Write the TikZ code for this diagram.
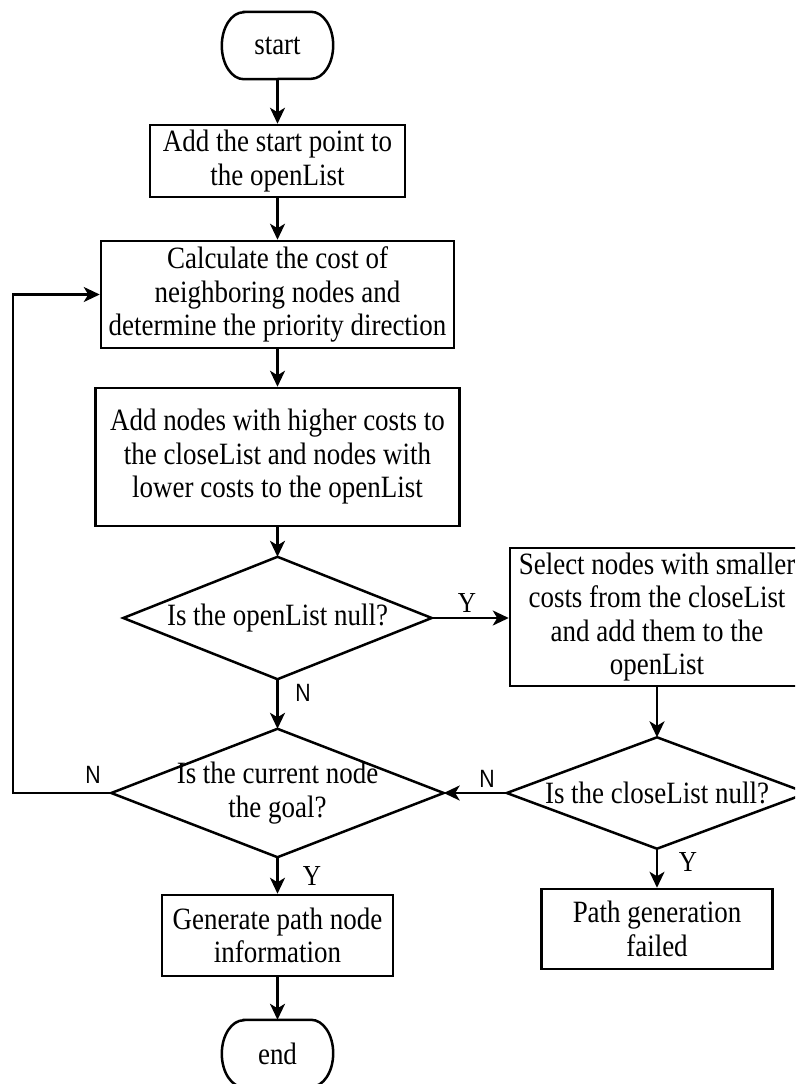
\documentclass[tikz,border=0pt]{standalone}
\usepackage{fontspec}
\setmainfont{Liberation Serif}[FakeStretch=0.87]
\newfontfamily\labsans{Liberation Sans}[FakeStretch=0.85]
\usetikzlibrary{arrows.meta,calc}
\begin{document}
\begin{tikzpicture}[x=1pt,y=-1pt,
  ln/.style={line width=2.5pt, line join=miter},
  arr/.style={line width=2.5pt, -{Stealth[length=16pt,width=15pt,inset=4.5pt]}},
  txt/.style={font=\fontsize{31}{33.5}\selectfont, align=center, inner sep=0pt},
  box/.style={txt, draw, line width=2.5pt, rectangle},
  term/.style={txt, rectangle},
  dec/.style={txt, rectangle},
  ylab/.style={font=\fontsize{29}{29}\selectfont, inner sep=0pt},
  nlab/.style={font=\labsans\fontsize{25}{25}\selectfont, inner sep=0pt}
]
\path[use as bounding box, clip] (0,0) rectangle (795,1084);
\fill[white] (0,0) rectangle (795,1084);

% nodes
\node[term, minimum width=111pt, minimum height=67pt] (st) at (277.5,45.5) {start};
\node[box, minimum width=255pt, minimum height=72pt] (b1) at (277.5,161) {Add the start point to\\the openList};
\node[box, minimum width=353pt, minimum height=107pt] (b2) at (277.5,294.5) {Calculate the cost of\\neighboring nodes and\\determine the priority direction};
\node[box, minimum width=364pt, minimum height=138pt] (b3) at (277.5,457) {Add nodes with higher costs to\\the closeList and nodes with\\lower costs to the openList};
\node[dec, minimum width=308pt, minimum height=122pt] (d1) at (277.5,618) {Is the openList null?};
\node[box, minimum width=294pt, minimum height=138pt] (b4) at (657,617) {Select nodes with smaller\\costs from the closeList\\and add them to the\\openList};
\node[dec, minimum width=332pt, minimum height=128pt] (d2) at (277.5,793) {Is the current node\\the goal?};
\node[dec, minimum width=300pt, minimum height=111pt] (d3) at (657,793) {Is the closeList null?};
\node[box, minimum width=231pt, minimum height=81pt] (b5) at (277.5,935.5) {Generate path node\\information};
\node[box, minimum width=231pt, minimum height=80pt] (b6) at (657,929) {Path generation\\failed};
\node[term, minimum width=111pt, minimum height=67pt] (en) at (277.5,1053.5) {end};

% terminator outlines
\foreach \t in {st,en}{
  \draw[ln] ([xshift=22pt]\t.north west) -- ([xshift=-22pt]\t.north east)
    arc[start angle=90,end angle=-90,x radius=22pt,y radius=33.5pt]
    -- ([xshift=22pt]\t.south west)
    arc[start angle=270,end angle=90,x radius=22pt,y radius=33.5pt] -- cycle;
}
% diamond outlines
\foreach \d in {d1,d2,d3}{
  \draw[ln] (\d.north) -- (\d.east) -- (\d.south) -- (\d.west) -- cycle;
}

% connectors
\coordinate (lp) at (13,0);
\draw[arr] (st.south) -- (b1.north);
\draw[arr] (b1.south) -- (b2.north);
\draw[arr] (b2.south) -- (b3.north);
\draw[arr] (b3.south) -- (d1.north);
\draw[arr] (d1.east) -- (b4.west |- d1.east);
\draw[arr] (d1.south) -- (d2.north);
\draw[arr] (b4.south) -- (d3.north);
\draw[arr] (d3.west) -- (d2.east);
\draw[arr] (d2.west) -- (d2.west -| lp) |- (b2.west);
\draw[arr] (d2.south) -- (b5.north);
\draw[arr] (d3.south) -- (b6.north);
\draw[arr] (b5.south) -- (en.north);

% labels
\node[ylab] (y1) at (467,603) {Y};
\node[nlab] (n1) at (303,693) {N};
\node[nlab] (n2) at (93,775) {N};
\node[nlab] (n3) at (487,779) {N};
\node[ylab] (y2) at (312,876) {Y};
\node[ylab] (y3) at (688,862) {Y};
\end{tikzpicture}
\end{document}
